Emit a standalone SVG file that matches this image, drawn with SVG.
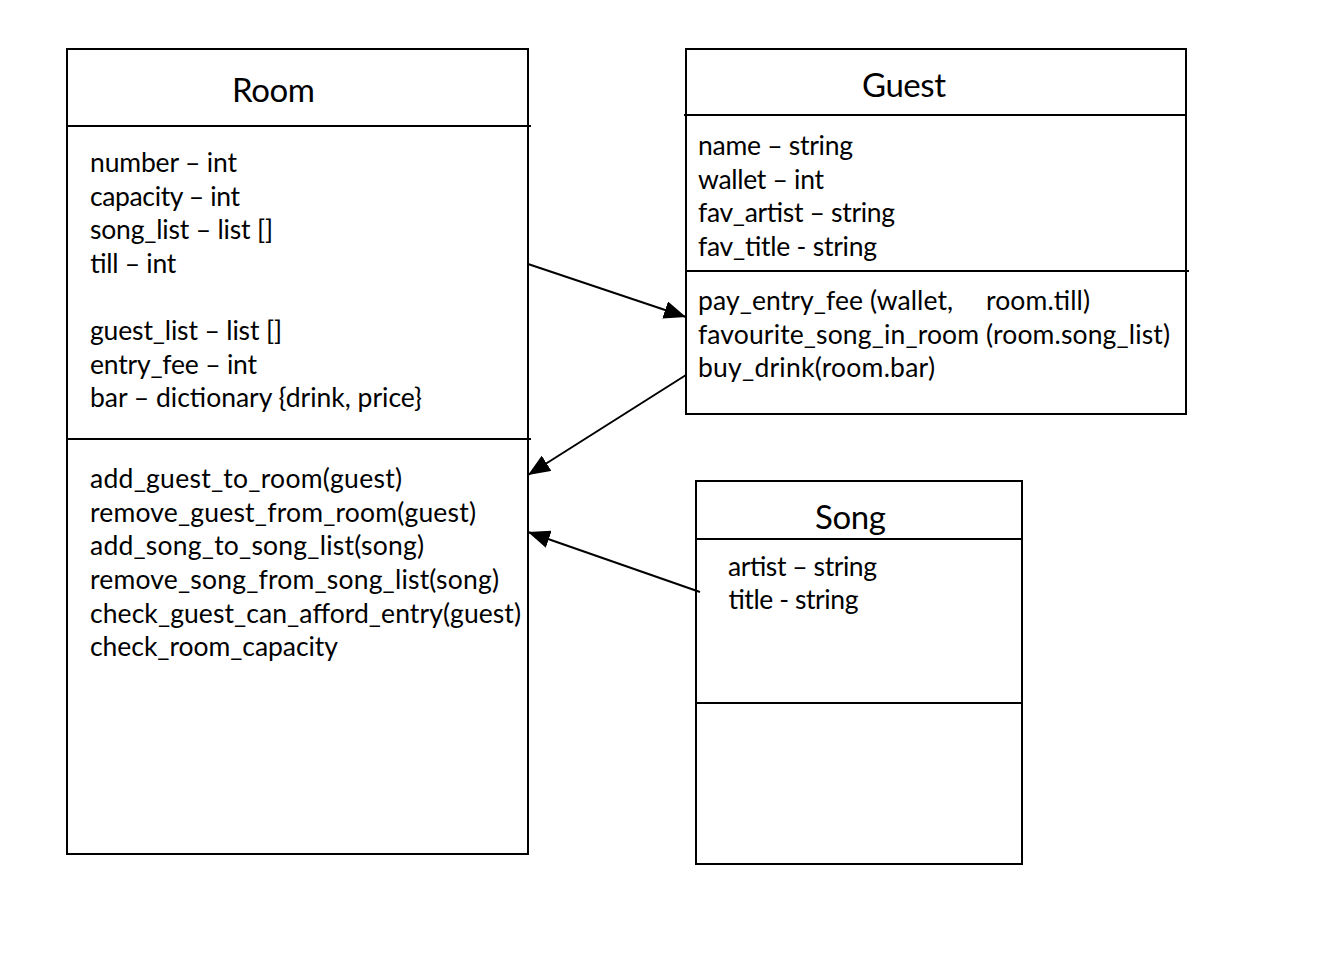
<svg xmlns="http://www.w3.org/2000/svg" width="1337" height="965" viewBox="0 0 1337 965">
<style>
.box{fill:#fff;stroke:#000;stroke-width:2}
.div{stroke:#000;stroke-width:2}
.t{font-family:Lato,"Open Sans","Liberation Sans",sans-serif;font-size:26.5px;fill:#000}
.h{font-family:Lato,"Open Sans","Liberation Sans",sans-serif;font-size:33px;fill:#000}
.c{stroke:#000;stroke-width:2;fill:none;marker-end:url(#ah)}
</style>
<defs>
<marker id="ah" markerUnits="userSpaceOnUse" markerWidth="22" markerHeight="18" viewBox="0 0 22 18" refX="22" refY="9" orient="auto">
<path d="M0,0 L22,9 L0,18 Z" fill="#000"/>
</marker>
</defs>
<rect width="1337" height="965" fill="#fff"/>
<g id="room">
<rect class="box" x="67" y="49" width="461" height="805"/>
<line class="div" x1="67" y1="126" x2="531" y2="126"/>
<line class="div" x1="67" y1="439" x2="531" y2="439"/>
<text class="h" x="232" y="102" textLength="83">Room</text>
<text class="t" x="90" y="172" textLength="147">number – int</text>
<text class="t" x="90" y="206" textLength="150">capacity – int</text>
<text class="t" x="90" y="239" textLength="183">song_list – list []</text>
<text class="t" x="90" y="273" textLength="86">till – int</text>
<text class="t" x="90" y="340" textLength="192">guest_list – list []</text>
<text class="t" x="90" y="374" textLength="167">entry_fee – int</text>
<text class="t" x="90" y="407" textLength="332">bar – dictionary {drink, price}</text>
<text class="t" x="90" y="488" textLength="312">add_guest_to_room(guest)</text>
<text class="t" x="90" y="522" textLength="386">remove_guest_from_room(guest)</text>
<text class="t" x="90" y="555" textLength="334">add_song_to_song_list(song)</text>
<text class="t" x="90" y="589" textLength="409">remove_song_from_song_list(song)</text>
<text class="t" x="90" y="623" textLength="431">check_guest_can_afford_entry(guest)</text>
<text class="t" x="90" y="656" textLength="248">check_room_capacity</text>
</g>
<g id="guest">
<rect class="box" x="686" y="49" width="500" height="365"/>
<line class="div" x1="684" y1="115" x2="1186" y2="115"/>
<line class="div" x1="686" y1="271" x2="1189" y2="271"/>
<text class="h" x="862" y="97" textLength="84">Guest</text>
<text class="t" x="698" y="155" textLength="155">name – string</text>
<text class="t" x="698" y="189" textLength="126">wallet – int</text>
<text class="t" x="698" y="222" textLength="197">fav_artist – string</text>
<text class="t" x="698" y="256" textLength="179">fav_title - string</text>
<text class="t" y="310"><tspan x="698" textLength="255">pay_entry_fee (wallet,</tspan><tspan x="986" textLength="104">room.till)</tspan></text>
<text class="t" x="698" y="344" textLength="472">favourite_song_in_room (room.song_list)</text>
<text class="t" x="698" y="377" textLength="237">buy_drink(room.bar)</text>
</g>
<g id="song">
<rect class="box" x="696" y="481" width="326" height="383"/>
<line class="div" x1="696" y1="539" x2="1022" y2="539"/>
<line class="div" x1="696" y1="703" x2="1022" y2="703"/>
<text class="h" x="815" y="529" textLength="71">Song</text>
<text class="t" x="728" y="576" textLength="149">artist – string</text>
<text class="t" x="728" y="609" textLength="130">title - string</text>
</g>
<g id="connectors">
<line class="c" x1="528" y1="264" x2="686" y2="317"/>
<line class="c" x1="686" y1="375" x2="528" y2="475"/>
<line class="c" x1="700" y1="592" x2="528" y2="532"/>
</g>
</svg>
